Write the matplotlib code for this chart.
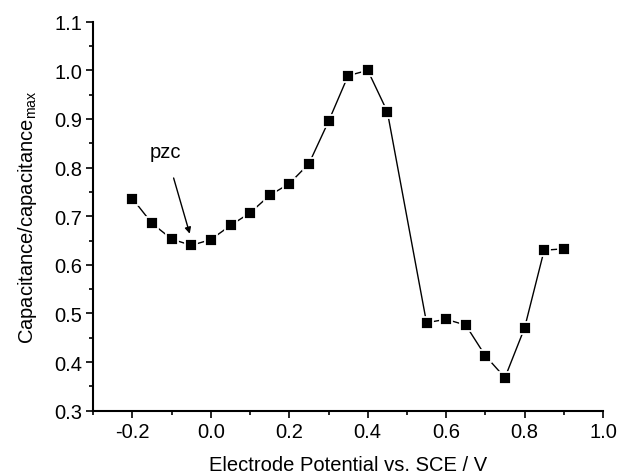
import matplotlib
matplotlib.use("Agg")
import matplotlib.pyplot as plt
from matplotlib.ticker import MultipleLocator

# potential (V vs SCE) and normalised capacitance
potencial = [-0.20, -0.15, -0.10, -0.05, 0.00, 0.05, 0.10, 0.15, 0.20, 0.25, 0.30,
             0.35, 0.40, 0.45, 0.55, 0.60, 0.65, 0.70, 0.75, 0.80, 0.85, 0.90]
capacitancia = [0.736, 0.685, 0.653, 0.640, 0.652, 0.681, 0.707, 0.743, 0.767, 0.808, 0.895,
                0.989, 1.000, 0.915, 0.481, 0.488, 0.476, 0.413, 0.368, 0.470, 0.630, 0.633]
etiquetas_x = ['-0.2', '0.0', '0.2', '0.4', '0.6', '0.8', '1.0']

plt.rcParams['font.family'] = ['Liberation Sans', 'DejaVu Sans']
fs = 14.5

fig = plt.figure(figsize=(6.19, 4.77), dpi=100)
ax = fig.add_axes([0.1507, 0.1369, 0.8234, 0.8155])

ax.plot(potencial, capacitancia, color='black', lw=1.0, marker='s', markersize=8.9,
        markerfacecolor='black', markeredgecolor='white', markeredgewidth=1.3)

ax.set_xlim(-0.3, 1.0)
ax.set_ylim(0.3, 1.1)
ax.xaxis.set_minor_locator(MultipleLocator(0.1))
ax.yaxis.set_major_locator(MultipleLocator(0.1))
ax.yaxis.set_minor_locator(MultipleLocator(0.05))
ax.set_xticks([-0.2, 0.0, 0.2, 0.4, 0.6, 0.8, 1.0])
ax.set_xticklabels(etiquetas_x)

ax.spines['top'].set_visible(False)
ax.spines['right'].set_visible(False)
ax.spines['left'].set_linewidth(1.5)
ax.spines['bottom'].set_linewidth(1.5)
ax.tick_params(which='major', direction='out', length=5, width=1.2, labelsize=fs, pad=3)
ax.tick_params(which='minor', direction='out', length=2.6, width=1.2)

ax.set_xlabel('Electrode Potential vs. SCE / V', fontsize=fs, labelpad=10)
ax.set_ylabel('Capacitance/capacitance$_{\\mathregular{max}}$', fontsize=fs, labelpad=11)

ax.annotate('pzc', xy=(-0.054, 0.664), xytext=(-0.115, 0.834), fontsize=fs,
            ha='center', va='center',
            arrowprops=dict(arrowstyle='-|>', color='black', lw=1.0,
                            mutation_scale=9, shrinkA=11, shrinkB=0))

fig.savefig('out.png', dpi=100)
